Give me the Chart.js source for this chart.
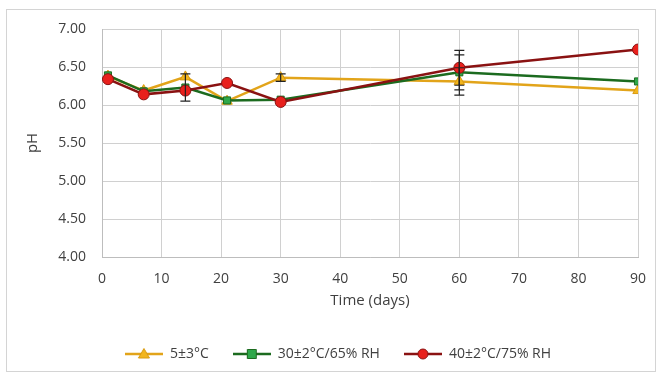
<!DOCTYPE html>
<html>
<head>
<meta charset="utf-8">
<script src="https://cdn.jsdelivr.net/npm/chart.js@4.4.1/dist/chart.umd.min.js"></script>
<style>
  html, body { margin: 0; padding: 0; background: #fff; }
  #wrap { position: relative; width: 662px; height: 377px; }
</style>
</head>
<body>
<div id="wrap"><canvas id="phChart" width="662" height="377"></canvas></div>
<script>
// time points (days)
const days = [1, 7, 14, 21, 30, 60, 90];

// pH per storage condition
const cold = [6.38, 6.19, 6.37, 6.05, 6.36, 6.31, 6.19];
const mid = [6.39, 6.18, 6.23, 6.06, 6.07, 6.43, 6.31];
const hot = [6.34, 6.14, 6.19, 6.29, 6.04, 6.49, 6.73];

// error bars (± value), 0 = none
const coldErr = [0, 0, 0, 0, 0.05, 0.18, 0];
const midErr = [0, 0, 0.18, 0, 0, 0.23, 0];
const hotErr = [0, 0, 0, 0, 0, 0.23, 0];

const labels = ["5±3°C", "30±2°C/65% RH", "40±2°C/75% RH"];
const yTicks = [4, 4.5, 5, 5.5, 6, 6.5, 7];

const FONT = "'Open Sans', 'Liberation Sans', sans-serif";

function toPoints(vals) {
  return days.map((d, i) => ({ x: d, y: vals[i] }));
}

function legendIcon(line, fill, border, style) {
  const c = document.createElement("canvas");
  c.width = 38;
  c.height = 14;
  const ctx = c.getContext("2d");
  ctx.strokeStyle = line;
  ctx.lineWidth = 2.5;
  ctx.beginPath();
  ctx.moveTo(0, 7);
  ctx.lineTo(38, 7);
  ctx.stroke();
  ctx.fillStyle = fill;
  ctx.strokeStyle = border;
  ctx.lineWidth = 1;
  ctx.beginPath();
  if (style === "triangle") {
    ctx.moveTo(19, 1.5);
    ctx.lineTo(24.5, 11);
    ctx.lineTo(13.5, 11);
    ctx.closePath();
  } else if (style === "rect") {
    ctx.rect(14.5, 2.5, 9, 9);
  } else {
    ctx.arc(19, 7, 5, 0, Math.PI * 2);
  }
  ctx.fill();
  ctx.stroke();
  return c;
}

const series = [
  { data: cold, err: coldErr, line: "#E2A41A", fill: "#F2B51C", border: "#D99A10", style: "triangle", radius: 6, order: 3 },
  { data: mid, err: midErr, line: "#1C6B1F", fill: "#2FA84A", border: "#1C6B1F", style: "rect", radius: 5, order: 2 },
  { data: hot, err: hotErr, line: "#8A1212", fill: "#E8201C", border: "#8A1212", style: "circle", radius: 5.5, order: 1 }
];

const errorBars = {
  id: "errorBars",
  afterDatasetsDraw(chart) {
    const ctx = chart.ctx;
    const xs = chart.scales.x;
    const ys = chart.scales.y;
    ctx.save();
    ctx.strokeStyle = "#222";
    ctx.lineWidth = 1.2;
    chart.data.datasets.forEach((ds) => {
      ds.err.forEach((e, i) => {
        if (!e) return;
        const px = xs.getPixelForValue(days[i]);
        const top = ys.getPixelForValue(ds.data[i].y + e);
        const bot = ys.getPixelForValue(ds.data[i].y - e);
        ctx.beginPath();
        ctx.moveTo(px, top);
        ctx.lineTo(px, bot);
        ctx.moveTo(px - 5, top);
        ctx.lineTo(px + 5, top);
        ctx.moveTo(px - 5, bot);
        ctx.lineTo(px + 5, bot);
        ctx.stroke();
      });
    });
    ctx.restore();
  }
};

const frame = {
  id: "frame",
  beforeDraw(chart) {
    const ctx = chart.ctx;
    ctx.save();
    ctx.fillStyle = "#fff";
    ctx.fillRect(0, 0, chart.width, chart.height);
    ctx.strokeStyle = "#d4d4d4";
    ctx.lineWidth = 1;
    ctx.strokeRect(6.5, 9.5, 649, 362);
    ctx.restore();
  }
};

new Chart(document.getElementById("phChart"), {
  type: "line",
  data: {
    datasets: series.map((s, i) => ({
      label: labels[i],
      data: toPoints(s.data),
      err: s.err,
      borderColor: s.line,
      borderWidth: 2.5,
      backgroundColor: s.fill,
      pointBackgroundColor: s.fill,
      pointBorderColor: s.border,
      pointBorderWidth: 1,
      pointStyle: s.style,
      pointRadius: s.radius,
      tension: 0,
      order: s.order,
      icon: legendIcon(s.line, s.fill, s.border, s.style)
    }))
  },
  options: {
    responsive: false,
    animation: false,
    layout: { padding: { left: 38, right: 24, top: 29, bottom: 6 } },
    scales: {
      x: {
        type: "linear",
        min: 0,
        max: 90,
        afterFit(scale) {
          scale.height = 66;
        },
        ticks: { stepSize: 10, color: "#404040", font: { family: FONT, size: 14 }, padding: 14, maxRotation: 0 },
        grid: { color: "#d0d0d0", drawTicks: false },
        border: { color: "#bdbdbd" },
        title: { display: true, text: "Time (days)", color: "#404040", font: { family: FONT, size: 15 }, padding: { top: 0, bottom: 13 } }
      },
      y: {
        min: 4,
        max: 7,
        afterBuildTicks(scale) {
          scale.ticks = yTicks.map((v) => ({ value: v }));
        },
        afterFit(scale) {
          scale.width = 64;
        },
        ticks: {
          color: "#404040",
          font: { family: FONT, size: 14 },
          padding: 16,
          callback: (v) => Number(v).toFixed(2)
        },
        grid: { color: "#d0d0d0", drawTicks: false },
        border: { color: "#bdbdbd" },
        title: { display: true, text: "pH", color: "#404040", font: { family: FONT, size: 15 }, padding: { top: -14, bottom: 0 } }
      }
    },
    plugins: {
      legend: {
        position: "bottom",
        labels: {
          usePointStyle: true,
          pointStyleWidth: 38,
          padding: 24,
          color: "#404040",
          font: { family: FONT, size: 14 },
          generateLabels(chart) {
            return chart.data.datasets.map((ds, i) => ({
              text: ds.label,
              pointStyle: ds.icon,
              fillStyle: ds.backgroundColor,
              strokeStyle: ds.borderColor,
              lineWidth: 0,
              fontColor: "#404040",
              hidden: false,
              datasetIndex: i
            }));
          }
        }
      },
      tooltip: { enabled: false }
    }
  },
  plugins: [frame, errorBars]
});
</script>
</body>
</html>
